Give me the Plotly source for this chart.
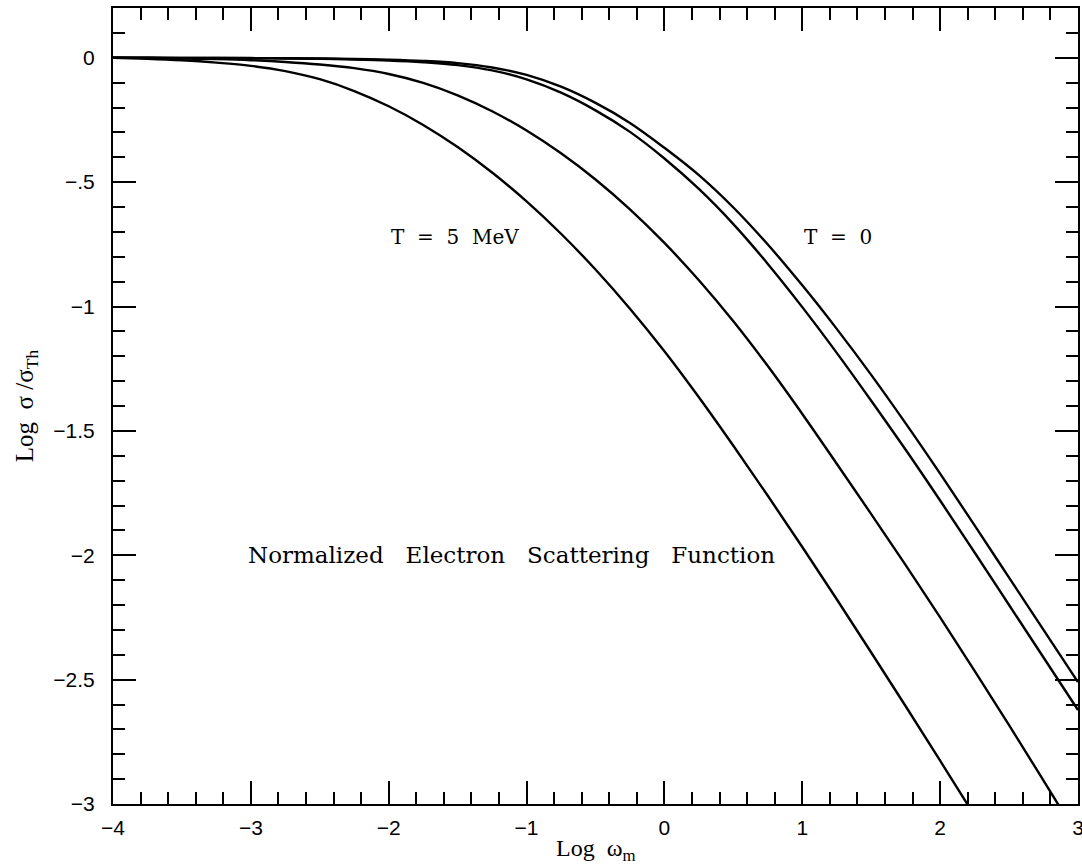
import plotly.graph_objects as go

# ---- data (log omega_m, log sigma/sigma_Th) ----
# common abscissa grid used for the readings
x_grid = [-4.0, -3.75, -3.5, -3.25, -3.0, -2.75, -2.5, -2.25, -2.0, -1.75, -1.5, -1.25, -1.0,
          -0.75, -0.5, -0.25, 0.0, 0.25, 0.5, 0.75, 1.0, 1.25, 1.5, 1.75, 2.0, 2.25, 2.5, 2.75, 3.0]

# T = 0 (rightmost curve)
y_t0 = [0.0, -0.0001, -0.0004, -0.0008, -0.0013, -0.0020, -0.0030, -0.0048, -0.0078, -0.0128,
        -0.0215, -0.039, -0.069, -0.1165, -0.1815, -0.262, -0.362, -0.472, -0.602, -0.751,
        -0.915, -1.090, -1.275, -1.470, -1.672, -1.880, -2.090, -2.300, -2.510]

# second curve from the right
y_c3 = [0.0, -0.0001, -0.0005, -0.0010, -0.0018, -0.0028, -0.0043, -0.0068, -0.0108, -0.0178,
        -0.0295, -0.051, -0.087, -0.1405, -0.2115, -0.298, -0.405, -0.5275, -0.6688, -0.8288,
        -1.0025, -1.1863, -1.3788, -1.576, -1.780, -1.989, -2.200, -2.411, -2.622]

# third curve from the right
y_c2 = [0.0, -0.001, -0.0028, -0.0055, -0.0098, -0.0168, -0.027, -0.0418, -0.0653, -0.1008,
        -0.151, -0.215, -0.2928, -0.3843, -0.4895, -0.6095, -0.7445, -0.8945, -1.0595, -1.2395,
        -1.432, -1.632, -1.8345, -2.0395, -2.2495, -2.4645, -2.683, -2.906, -3.131]

# T = 5 MeV (leftmost curve), read down to the bottom axis
x_t5 = x_grid[:26]
y_t5 = [0.0, -0.0038, -0.010, -0.0195, -0.0325, -0.0538, -0.0863, -0.1338, -0.195, -0.270,
        -0.3588, -0.4613, -0.5775, -0.7075, -0.8513, -1.0088, -1.180, -1.365, -1.560, -1.761,
        -1.967, -2.177, -2.391, -2.607, -2.826, -3.047]

x_tickvals = [-4, -3, -2, -1, 0, 1, 2, 3]
x_ticktext = ["\u22124", "\u22123", "\u22122", "\u22121", "0", "1", "2", "3"]
y_tickvals = [0, -0.5, -1, -1.5, -2, -2.5, -3]
y_ticktext = ["0", "\u2212.5", "\u22121", "\u22121.5", "\u22122", "\u22122.5", "\u22123"]

fig = go.Figure()
for xs, ys in [(x_grid, y_t0), (x_grid, y_c3), (x_grid, y_c2), (x_t5, y_t5)]:
    fig.add_trace(go.Scatter(x=xs, y=ys, mode="lines",
                             line=dict(color="black", width=2.4, shape="spline", smoothing=1.0),
                             showlegend=False, hoverinfo="skip"))

tickfont = dict(family="Liberation Sans, Arial, sans-serif", size=21, color="black")
axis_common = dict(showgrid=False, zeroline=False, showline=True, linecolor="black", linewidth=2,
                   mirror="allticks", ticks="inside", ticklen=23, tickwidth=2, tickcolor="black",
                   tickfont=tickfont, ticklabeloverflow="allow")

fig.update_xaxes(range=[-4, 3], tickmode="array", tickvals=x_tickvals, ticktext=x_ticktext,
                 minor=dict(dtick=0.2, tick0=0, ticks="inside", ticklen=12, tickwidth=2, tickcolor="black"),
                 ticklabelstandoff=4, **axis_common)
fig.update_yaxes(range=[-3, 0.2], tickmode="array", tickvals=y_tickvals, ticktext=y_ticktext,
                 minor=dict(dtick=0.1, tick0=0, ticks="inside", ticklen=12, tickwidth=2, tickcolor="black"),
                 ticklabelstandoff=12, **axis_common)

serif = "Liberation Serif, Times New Roman, serif"
labfont = dict(family="DejaVu Serif, serif", size=20, color="black")
bigfont = dict(family="DejaVu Serif, serif", size=23, color="black")
fig.add_annotation(x=-2.0, y=-0.72, xref="x", yref="y", text="T&nbsp; =&nbsp; 5&nbsp; MeV",
                   showarrow=False, xanchor="left", yanchor="middle", font=labfont)
fig.add_annotation(x=1.0, y=-0.72, xref="x", yref="y", text="T&nbsp; =&nbsp; 0",
                   showarrow=False, xanchor="left", yanchor="middle", font=labfont)
fig.add_annotation(x=-3.035, y=-2.0, xref="x", yref="y",
                   text="Normalized&nbsp;&nbsp; Electron&nbsp;&nbsp; Scattering&nbsp;&nbsp; Function",
                   showarrow=False, xanchor="left", yanchor="middle", font=bigfont)

fig.add_annotation(x=0.5, y=-0.058, xref="paper", yref="paper", text="Log&nbsp; \u03c9<sub>m</sub>",
                   showarrow=False, xanchor="center", yanchor="middle",
                   font=dict(family=serif, size=24, color="black"))
fig.add_annotation(x=-0.090, y=0.5, xref="paper", yref="paper",
                   text="Log&nbsp; \u03c3&nbsp;/\u03c3<sub>Th</sub>",
                   showarrow=False, xanchor="center", yanchor="middle", textangle=-90,
                   font=dict(family=serif, size=25, color="black"))

fig.update_layout(width=1082, height=865, margin=dict(l=113, r=4, t=8, b=61, autoexpand=False),
                  paper_bgcolor="white", plot_bgcolor="white")

fig.write_html("out.html")
